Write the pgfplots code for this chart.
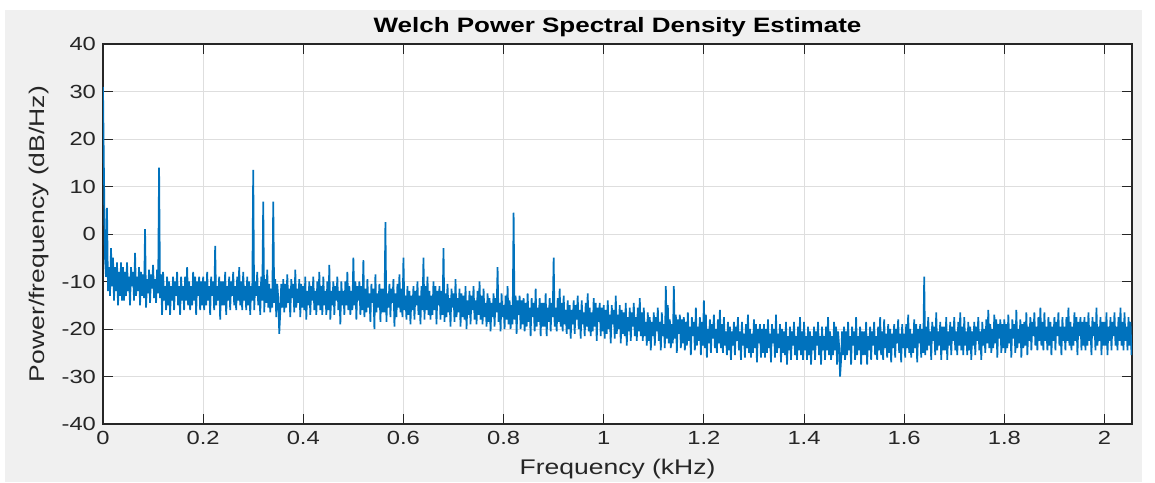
\documentclass[border=0pt]{standalone}
\usepackage{pgfplots}
\pgfplotsset{compat=1.18}
\usepackage{fontspec}
\setmainfont[FakeStretch=1.25]{Liberation Sans}
\definecolor{matblue}{HTML}{0072BD}
\definecolor{figbg}{HTML}{F0F0F0}
\definecolor{axgray}{HTML}{262626}
\definecolor{gridgray}{HTML}{DEDEDE}

\begin{document}
\begin{tikzpicture}
\fill[white] (-51.5pt,-29pt) rectangle (526pt,212pt);
\fill[figbg] (-49pt,-29pt) rectangle (519.5pt,207pt);
\begin{axis}[
  at={(0,0)}, anchor=south west,
  scale only axis, width=514.5pt, height=190pt,
  xmin=0, xmax=2.055, ymin=-40, ymax=40,
  xtick={0,0.2,0.4,0.6,0.8,1,1.2,1.4,1.6,1.8,2},
  ytick={-40,-30,-20,-10,0,10,20,30,40},
  tick pos=both, tick align=inside,
  major tick length=5pt,
  /pgf/number format/assume math mode=true,
  tick label style={font=\fontsize{9.5}{11}\selectfont, color=axgray},
  axis background/.style={fill=white},
  axis line style={axgray, line width=0.6pt},
  tick style={axgray, line width=0.5pt},
  grid=major, major grid style={gridgray, line width=0.5pt},
  title={Welch Power Spectral Density Estimate},
  title style={at={(axis description cs:0.5,1)}, anchor=base,
    font=\bfseries\fontsize{10.4}{12}\selectfont, color=black},
  xlabel={Frequency (kHz)},
  xlabel style={at={(axis description cs:0.5,-0.134)}, anchor=base,
    font=\fontsize{10.6}{12}\selectfont, color=axgray},
  ylabel={Power/frequency (dB/Hz)},
  ylabel style={at={(axis description cs:-0.062,0.5)}, anchor=center,
    font=\fontsize{10.6}{12}\selectfont, color=axgray},
]
\addplot[matblue, line width=0.85pt, line join=bevel] coordinates {
(0,31)(0.002,12)(0.004,-5)(0.006,-9)(0.008,5.5)(0.01,-12)(0.012,-7)(0.014,-13)(0.016,-3)(0.018,-11)(0.02,-5)(0.022,-14)(0.024,-7)(0.026,-12)(0.028,-6)(0.03,-15)(0.032,-8)(0.034,-13)(0.036,-6)(0.038,-14)
(0.04,-7)(0.042,-14)(0.044,-8)(0.046,-13)(0.048,-6)(0.05,-12)(0.052,-9)(0.054,-15)(0.056,-7)(0.058,-11)(0.06,-8)(0.062,-14)(0.064,-4)(0.066,-13)(0.068,-9)(0.07,-12)(0.072,-7)(0.074,-15)(0.076,-8)(0.078,-13)
(0.08,-8.5)(0.082,-13.5)(0.084,1)(0.086,-15.5)(0.088,-9.5)(0.09,-12.5)(0.092,-7.5)(0.094,-14.5)(0.096,-8.5)(0.098,-11.5)(0.1,-6.5)(0.102,-13.5)(0.104,-9.5)(0.106,-14.5)(0.108,-7.5)(0.11,-12.5)(0.112,14)(0.114,-13.5)(0.116,-8.5)(0.118,-17)
(0.12,-8)(0.122,-14)(0.124,-11)(0.126,-16)(0.128,-9)(0.13,-15)(0.132,-10)(0.134,-17)(0.136,-11)(0.138,-14)(0.14,-9)(0.142,-16)(0.144,-10)(0.146,-13)(0.148,-8)(0.15,-15)(0.152,-11)(0.154,-17)(0.156,-9)(0.158,-14)
(0.16,-11)(0.162,-16)(0.164,-9)(0.166,-14)(0.168,-7)(0.17,-15)(0.172,-10)(0.174,-16)(0.176,-11)(0.178,-15)(0.18,-8)(0.182,-14)(0.184,-9)(0.186,-17)(0.188,-10)(0.19,-13)(0.192,-9)(0.194,-16)(0.196,-10)(0.198,-15)
(0.2,-9)(0.202,-16)(0.204,-10)(0.206,-15)(0.208,-8)(0.21,-14)(0.212,-11)(0.214,-17)(0.216,-9)(0.218,-13)(0.22,-10)(0.222,-16)(0.224,-2.5)(0.226,-15)(0.228,-11)(0.23,-14)(0.232,-9)(0.234,-18)(0.236,-10)(0.238,-15)
(0.24,-10)(0.242,-15)(0.244,-8)(0.246,-17)(0.248,-11)(0.25,-14)(0.252,-9)(0.254,-16)(0.256,-10)(0.258,-13)(0.26,-8)(0.262,-15)(0.264,-11)(0.266,-16)(0.268,-9)(0.27,-14)(0.272,-7)(0.274,-15)(0.276,-10)(0.278,-16)
(0.28,-8)(0.282,-14)(0.284,-11)(0.286,-16)(0.288,-9)(0.29,-15)(0.292,-10)(0.294,-17)(0.296,-11)(0.298,-14)(0.3,13.5)(0.302,-16)(0.304,-10)(0.306,-13)(0.308,-8)(0.31,-15)(0.312,-11)(0.314,-17)(0.316,-9)(0.318,-14)
(0.32,6.8)(0.322,-16.5)(0.324,-9.5)(0.326,-14.5)(0.328,-7.5)(0.33,-15.5)(0.332,-10.5)(0.334,-16.5)(0.336,-11.5)(0.338,-15.5)(0.34,6.8)(0.342,-14.5)(0.344,-9.5)(0.346,-17.5)(0.348,-10.5)(0.35,-13.5)(0.352,-21)(0.354,-16.5)(0.356,-10.5)(0.358,-15.5)
(0.36,-9.5)(0.362,-16.5)(0.364,-10.5)(0.366,-15.5)(0.368,-8.5)(0.37,-14.5)(0.372,-11.5)(0.374,-17.5)(0.376,-9.5)(0.378,-13.5)(0.38,-10.5)(0.382,-16.5)(0.384,-7.5)(0.386,-15.5)(0.388,-11.5)(0.39,-14.5)(0.392,-9.5)(0.394,-17.5)(0.396,-10.5)(0.398,-15.5)
(0.4,-11)(0.402,-16)(0.404,-9)(0.406,-18)(0.408,-12)(0.41,-15)(0.412,-10)(0.414,-17)(0.416,-11)(0.418,-14)(0.42,-9)(0.422,-16)(0.424,-12)(0.426,-17)(0.428,-10)(0.43,-15)(0.432,-8)(0.434,-16)(0.436,-11)(0.438,-17)
(0.44,-9)(0.442,-15)(0.444,-12)(0.446,-17)(0.448,-10)(0.45,-16)(0.452,-6.5)(0.454,-18)(0.456,-12)(0.458,-15)(0.46,-10)(0.462,-17)(0.464,-11)(0.466,-14)(0.468,-9)(0.47,-16)(0.472,-12)(0.474,-19)(0.476,-10)(0.478,-15)
(0.48,-12)(0.482,-17)(0.484,-10)(0.486,-15)(0.488,-8)(0.49,-16)(0.492,-11)(0.494,-17)(0.496,-12)(0.498,-16)(0.5,-5)(0.502,-15)(0.504,-10)(0.506,-18)(0.508,-11)(0.51,-14)(0.512,-10)(0.514,-17)(0.516,-11)(0.518,-16)
(0.52,-5.5)(0.522,-17.5)(0.524,-11.5)(0.526,-16.5)(0.528,-9.5)(0.53,-15.5)(0.532,-12.5)(0.534,-18.5)(0.536,-10.5)(0.538,-14.5)(0.54,-11.5)(0.542,-20)(0.544,-8.5)(0.546,-16.5)(0.548,-12.5)(0.55,-15.5)(0.552,-10.5)(0.554,-18.5)(0.556,-11.5)(0.558,-16.5)
(0.56,-11.5)(0.562,-16.5)(0.564,2.5)(0.566,-18.5)(0.568,-12.5)(0.57,-15.5)(0.572,-10.5)(0.574,-17.5)(0.576,-11.5)(0.578,-14.5)(0.58,-9.5)(0.582,-19.5)(0.584,-12.5)(0.586,-17.5)(0.588,-10.5)(0.59,-15.5)(0.592,-8.5)(0.594,-16.5)(0.596,-11.5)(0.598,-17.5)
(0.6,-5)(0.602,-16)(0.604,-13)(0.606,-18)(0.608,-11)(0.61,-17)(0.612,-12)(0.614,-19)(0.616,-13)(0.618,-16)(0.62,-11)(0.622,-18)(0.624,-12)(0.626,-15)(0.628,-10)(0.63,-17)(0.632,-13)(0.634,-19)(0.636,-11)(0.638,-16)
(0.64,-5)(0.642,-18)(0.644,-11)(0.646,-16)(0.648,-9)(0.65,-17)(0.652,-12)(0.654,-18)(0.656,-13)(0.658,-17)(0.66,-10)(0.662,-16)(0.664,-11)(0.666,-19)(0.668,-12)(0.67,-15)(0.672,-11)(0.674,-18)(0.676,-12)(0.678,-17)
(0.68,-3)(0.682,-18.5)(0.684,-12.5)(0.686,-17.5)(0.688,-10.5)(0.69,-16.5)(0.692,-13.5)(0.694,-19.5)(0.696,-11.5)(0.698,-15.5)(0.7,-12.5)(0.702,-18.5)(0.704,-9.5)(0.706,-17.5)(0.708,-13.5)(0.71,-16.5)(0.712,-11.5)(0.714,-19.5)(0.716,-12.5)(0.718,-17.5)
(0.72,-13)(0.722,-18)(0.724,-11)(0.726,-20)(0.728,-14)(0.73,-17)(0.732,-12)(0.734,-19)(0.736,-13)(0.738,-16)(0.74,-11)(0.742,-18)(0.744,-14)(0.746,-19)(0.748,-12)(0.75,-17)(0.752,-10)(0.754,-18)(0.756,-13)(0.758,-19)
(0.76,-11.5)(0.762,-17.5)(0.764,-14.5)(0.766,-19.5)(0.768,-12.5)(0.77,-18.5)(0.772,-13.5)(0.774,-20.5)(0.776,-14.5)(0.778,-17.5)(0.78,-12.5)(0.782,-19.5)(0.784,-13.5)(0.786,-16.5)(0.788,-7)(0.79,-18.5)(0.792,-14.5)(0.794,-20.5)(0.796,-12.5)(0.798,-17.5)
(0.8,-15)(0.802,-20)(0.804,-13)(0.806,-18)(0.808,-11)(0.81,-19)(0.812,-14)(0.814,-20)(0.816,-15)(0.818,-19)(0.82,4.5)(0.822,-18)(0.824,-13)(0.826,-21)(0.828,-14)(0.83,-17)(0.832,-13)(0.834,-20)(0.836,-14)(0.838,-19)
(0.84,-13.5)(0.842,-20.5)(0.844,-14.5)(0.846,-19.5)(0.848,-12.5)(0.85,-18.5)(0.852,-15.5)(0.854,-21.5)(0.856,-13.5)(0.858,-17.5)(0.86,-14.5)(0.862,-20.5)(0.864,-11.5)(0.866,-19.5)(0.868,-15.5)(0.87,-18.5)(0.872,-13.5)(0.874,-21.5)(0.876,-14.5)(0.878,-19.5)
(0.88,-14.5)(0.882,-19.5)(0.884,-12.5)(0.886,-21.5)(0.888,-15.5)(0.89,-18.5)(0.892,-13.5)(0.894,-20.5)(0.896,-14.5)(0.898,-17.5)(0.9,-5)(0.902,-19.5)(0.904,-15.5)(0.906,-20.5)(0.908,-13.5)(0.91,-18.5)(0.912,-11.5)(0.914,-19.5)(0.916,-14.5)(0.918,-20.5)
(0.92,-13)(0.922,-19)(0.924,-16)(0.926,-21)(0.928,-14)(0.93,-20)(0.932,-15)(0.934,-22)(0.936,-16)(0.938,-19)(0.94,-14)(0.942,-21)(0.944,-15)(0.946,-18)(0.948,-13)(0.95,-20)(0.952,-16)(0.954,-22)(0.956,-14)(0.958,-19)
(0.96,-16.5)(0.962,-21.5)(0.964,-14.5)(0.966,-19.5)(0.968,-12.5)(0.97,-20.5)(0.972,-15.5)(0.974,-21.5)(0.976,-16.5)(0.978,-20.5)(0.98,-13.5)(0.982,-19.5)(0.984,-14.5)(0.986,-22.5)(0.988,-15.5)(0.99,-18.5)(0.992,-14.5)(0.994,-21.5)(0.996,-15.5)(0.998,-20.5)
(1,-15)(1.002,-22)(1.004,-16)(1.006,-21)(1.008,-14)(1.01,-20)(1.012,-17)(1.014,-23)(1.016,-15)(1.018,-19)(1.02,-16)(1.022,-22)(1.024,-13)(1.026,-21)(1.028,-17)(1.03,-20)(1.032,-15)(1.034,-23)(1.036,-16)(1.038,-21)
(1.04,-16.5)(1.042,-21.5)(1.044,-14.5)(1.046,-23.5)(1.048,-17.5)(1.05,-20.5)(1.052,-15.5)(1.054,-22.5)(1.056,-16.5)(1.058,-19.5)(1.06,-14.5)(1.062,-21.5)(1.064,-17.5)(1.066,-22.5)(1.068,-15.5)(1.07,-20.5)(1.072,-13.5)(1.074,-21.5)(1.076,-16.5)(1.078,-22.5)
(1.08,-15.5)(1.082,-21.5)(1.084,-18.5)(1.086,-23.5)(1.088,-16.5)(1.09,-22.5)(1.092,-17.5)(1.094,-24.5)(1.096,-18.5)(1.098,-21.5)(1.1,-16.5)(1.102,-23.5)(1.104,-17.5)(1.106,-20.5)(1.108,-15.5)(1.11,-22.5)(1.112,-18.5)(1.114,-24.5)(1.116,-16.5)(1.118,-21.5)
(1.12,-19)(1.122,-24)(1.124,-11)(1.126,-22)(1.128,-15)(1.13,-23)(1.132,-18)(1.134,-24)(1.136,-19)(1.138,-23)(1.14,-11)(1.142,-22)(1.144,-17)(1.146,-25)(1.148,-18)(1.15,-21)(1.152,-17)(1.154,-24)(1.156,-18)(1.158,-23)
(1.16,-17.5)(1.162,-24.5)(1.164,-18.5)(1.166,-23.5)(1.168,-16.5)(1.17,-22.5)(1.172,-19.5)(1.174,-25.5)(1.176,-17.5)(1.178,-21.5)(1.18,-18.5)(1.182,-24.5)(1.184,-15.5)(1.186,-23.5)(1.188,-19.5)(1.19,-22.5)(1.192,-17.5)(1.194,-25.5)(1.196,-18.5)(1.198,-23.5)
(1.2,-14)(1.202,-24)(1.204,-17)(1.206,-26)(1.208,-20)(1.21,-23)(1.212,-18)(1.214,-25)(1.216,-19)(1.218,-22)(1.22,-17)(1.222,-24)(1.224,-20)(1.226,-25)(1.228,-18)(1.23,-23)(1.232,-16)(1.234,-24)(1.236,-19)(1.238,-25)
(1.24,-17.5)(1.242,-23.5)(1.244,-20.5)(1.246,-25.5)(1.248,-18.5)(1.25,-24.5)(1.252,-19.5)(1.254,-26.5)(1.256,-20.5)(1.258,-23.5)(1.26,-18.5)(1.262,-25.5)(1.264,-19.5)(1.266,-22.5)(1.268,-17.5)(1.27,-24.5)(1.272,-20.5)(1.274,-26.5)(1.276,-18.5)(1.278,-23.5)
(1.28,-21)(1.282,-26)(1.284,-19)(1.286,-24)(1.288,-17)(1.29,-25)(1.292,-20)(1.294,-26)(1.296,-21)(1.298,-25)(1.3,-18)(1.302,-24)(1.304,-19)(1.306,-27)(1.308,-20)(1.31,-23)(1.312,-19)(1.314,-26)(1.316,-20)(1.318,-25)
(1.32,-19)(1.322,-26)(1.324,-20)(1.326,-25)(1.328,-18)(1.33,-24)(1.332,-21)(1.334,-27)(1.336,-19)(1.338,-23)(1.34,-20)(1.342,-26)(1.344,-17)(1.346,-25)(1.348,-21)(1.35,-24)(1.352,-19)(1.354,-27)(1.356,-20)(1.358,-25)
(1.36,-20.5)(1.362,-25.5)(1.364,-18.5)(1.366,-27.5)(1.368,-21.5)(1.37,-24.5)(1.372,-19.5)(1.374,-26.5)(1.376,-20.5)(1.378,-23.5)(1.38,-18.5)(1.382,-25.5)(1.384,-21.5)(1.386,-26.5)(1.388,-19.5)(1.39,-24.5)(1.392,-17.5)(1.394,-25.5)(1.396,-20.5)(1.398,-26.5)
(1.4,-18.5)(1.402,-24.5)(1.404,-21.5)(1.406,-26.5)(1.408,-19.5)(1.41,-25.5)(1.412,-20.5)(1.414,-27.5)(1.416,-21.5)(1.418,-24.5)(1.42,-19.5)(1.422,-26.5)(1.424,-20.5)(1.426,-23.5)(1.428,-18.5)(1.43,-25.5)(1.432,-21.5)(1.434,-27.5)(1.436,-19.5)(1.438,-24.5)
(1.44,-21.5)(1.442,-26.5)(1.444,-19.5)(1.446,-24.5)(1.448,-17.5)(1.45,-25.5)(1.452,-20.5)(1.454,-26.5)(1.456,-21.5)(1.458,-25.5)(1.46,-18.5)(1.462,-24.5)(1.464,-19.5)(1.466,-27.5)(1.468,-20.5)(1.47,-23.5)(1.472,-30)(1.474,-26.5)(1.476,-20.5)(1.478,-25.5)
(1.48,-19.5)(1.482,-26.5)(1.484,-20.5)(1.486,-25.5)(1.488,-18.5)(1.49,-24.5)(1.492,-21.5)(1.494,-27.5)(1.496,-19.5)(1.498,-23.5)(1.5,-20.5)(1.502,-26.5)(1.504,-17.5)(1.506,-25.5)(1.508,-21.5)(1.51,-24.5)(1.512,-19.5)(1.514,-27.5)(1.516,-20.5)(1.518,-25.5)
(1.52,-20.5)(1.522,-25.5)(1.524,-18.5)(1.526,-27.5)(1.528,-21.5)(1.53,-24.5)(1.532,-19.5)(1.534,-26.5)(1.536,-20.5)(1.538,-23.5)(1.54,-18.5)(1.542,-25.5)(1.544,-21.5)(1.546,-26.5)(1.548,-19.5)(1.55,-24.5)(1.552,-17.5)(1.554,-25.5)(1.556,-20.5)(1.558,-26.5)
(1.56,-18)(1.562,-24)(1.564,-21)(1.566,-26)(1.568,-19)(1.57,-25)(1.572,-20)(1.574,-27)(1.576,-21)(1.578,-24)(1.58,-19)(1.582,-26)(1.584,-20)(1.586,-23)(1.588,-18)(1.59,-25)(1.592,-21)(1.594,-27)(1.596,-19)(1.598,-24)
(1.6,-21)(1.602,-26)(1.604,-19)(1.606,-24)(1.608,-17)(1.61,-25)(1.612,-20)(1.614,-26)(1.616,-21)(1.618,-25)(1.62,-18)(1.622,-24)(1.624,-19)(1.626,-27)(1.628,-20)(1.63,-23)(1.632,-19)(1.634,-26)(1.636,-20)(1.638,-25)
(1.64,-9)(1.642,-25.5)(1.644,-19.5)(1.646,-24.5)(1.648,-17.5)(1.65,-23.5)(1.652,-20.5)(1.654,-26.5)(1.656,-18.5)(1.658,-22.5)(1.66,-19.5)(1.662,-25.5)(1.664,-16.5)(1.666,-24.5)(1.668,-20.5)(1.67,-23.5)(1.672,-18.5)(1.674,-26.5)(1.676,-19.5)(1.678,-24.5)
(1.68,-19.5)(1.682,-24.5)(1.684,-17.5)(1.686,-26.5)(1.688,-20.5)(1.69,-23.5)(1.692,-18.5)(1.694,-25.5)(1.696,-19.5)(1.698,-22.5)(1.7,-17.5)(1.702,-24.5)(1.704,-20.5)(1.706,-25.5)(1.708,-18.5)(1.71,-23.5)(1.712,-16.5)(1.714,-24.5)(1.716,-19.5)(1.718,-25.5)
(1.72,-17.5)(1.722,-23.5)(1.724,-20.5)(1.726,-25.5)(1.728,-18.5)(1.73,-24.5)(1.732,-19.5)(1.734,-26.5)(1.736,-20.5)(1.738,-23.5)(1.74,-18.5)(1.742,-25.5)(1.744,-19.5)(1.746,-22.5)(1.748,-17.5)(1.75,-24.5)(1.752,-20.5)(1.754,-26.5)(1.756,-18.5)(1.758,-23.5)
(1.76,-20)(1.762,-25)(1.764,-18)(1.766,-23)(1.768,-16)(1.77,-24)(1.772,-19)(1.774,-25)(1.776,-20)(1.778,-24)(1.78,-17)(1.782,-23)(1.784,-18)(1.786,-26)(1.788,-19)(1.79,-22)(1.792,-18)(1.794,-25)(1.796,-19)(1.798,-24)
(1.8,-18)(1.802,-25)(1.804,-19)(1.806,-24)(1.808,-17)(1.81,-23)(1.812,-20)(1.814,-26)(1.816,-18)(1.818,-22)(1.82,-19)(1.822,-25)(1.824,-16)(1.826,-24)(1.828,-20)(1.83,-23)(1.832,-18)(1.834,-26)(1.836,-19)(1.838,-24)
(1.84,-18.5)(1.842,-23.5)(1.844,-16.5)(1.846,-25.5)(1.848,-19.5)(1.85,-22.5)(1.852,-17.5)(1.854,-24.5)(1.856,-18.5)(1.858,-21.5)(1.86,-16.5)(1.862,-23.5)(1.864,-19.5)(1.866,-24.5)(1.868,-17.5)(1.87,-22.5)(1.872,-15.5)(1.874,-23.5)(1.876,-18.5)(1.878,-24.5)
(1.88,-16.5)(1.882,-22.5)(1.884,-19.5)(1.886,-24.5)(1.888,-17.5)(1.89,-23.5)(1.892,-18.5)(1.894,-25.5)(1.896,-19.5)(1.898,-22.5)(1.9,-17.5)(1.902,-24.5)(1.904,-18.5)(1.906,-21.5)(1.908,-16.5)(1.91,-23.5)(1.912,-19.5)(1.914,-25.5)(1.916,-17.5)(1.918,-22.5)
(1.92,-19.5)(1.922,-24.5)(1.924,-17.5)(1.926,-22.5)(1.928,-15.5)(1.93,-23.5)(1.932,-18.5)(1.934,-24.5)(1.936,-19.5)(1.938,-23.5)(1.94,-16.5)(1.942,-22.5)(1.944,-17.5)(1.946,-25.5)(1.948,-18.5)(1.95,-21.5)(1.952,-17.5)(1.954,-24.5)(1.956,-18.5)(1.958,-23.5)
(1.96,-17.5)(1.962,-24.5)(1.964,-18.5)(1.966,-23.5)(1.968,-16.5)(1.97,-22.5)(1.972,-19.5)(1.974,-25.5)(1.976,-17.5)(1.978,-21.5)(1.98,-18.5)(1.982,-24.5)(1.984,-15.5)(1.986,-23.5)(1.988,-19.5)(1.99,-22.5)(1.992,-17.5)(1.994,-25.5)(1.996,-18.5)(1.998,-23.5)
(2,-18.5)(2.002,-23.5)(2.004,-16.5)(2.006,-25.5)(2.008,-19.5)(2.01,-22.5)(2.012,-17.5)(2.014,-24.5)(2.016,-18.5)(2.018,-21.5)(2.02,-16.5)(2.022,-23.5)(2.024,-19.5)(2.026,-24.5)(2.028,-17.5)(2.03,-22.5)(2.032,-15.5)(2.034,-23.5)(2.036,-18.5)(2.038,-24.5)
(2.04,-16.5)(2.042,-22.5)(2.044,-19.5)(2.046,-24.5)(2.048,-17.5)(2.05,-23.5)(2.052,-18.5)(2.054,-25.5)
};
\end{axis}
\pgfresetboundingbox
\useasboundingbox (-51.5pt,-29pt) rectangle (526pt,212pt);
\end{tikzpicture}
\end{document}
